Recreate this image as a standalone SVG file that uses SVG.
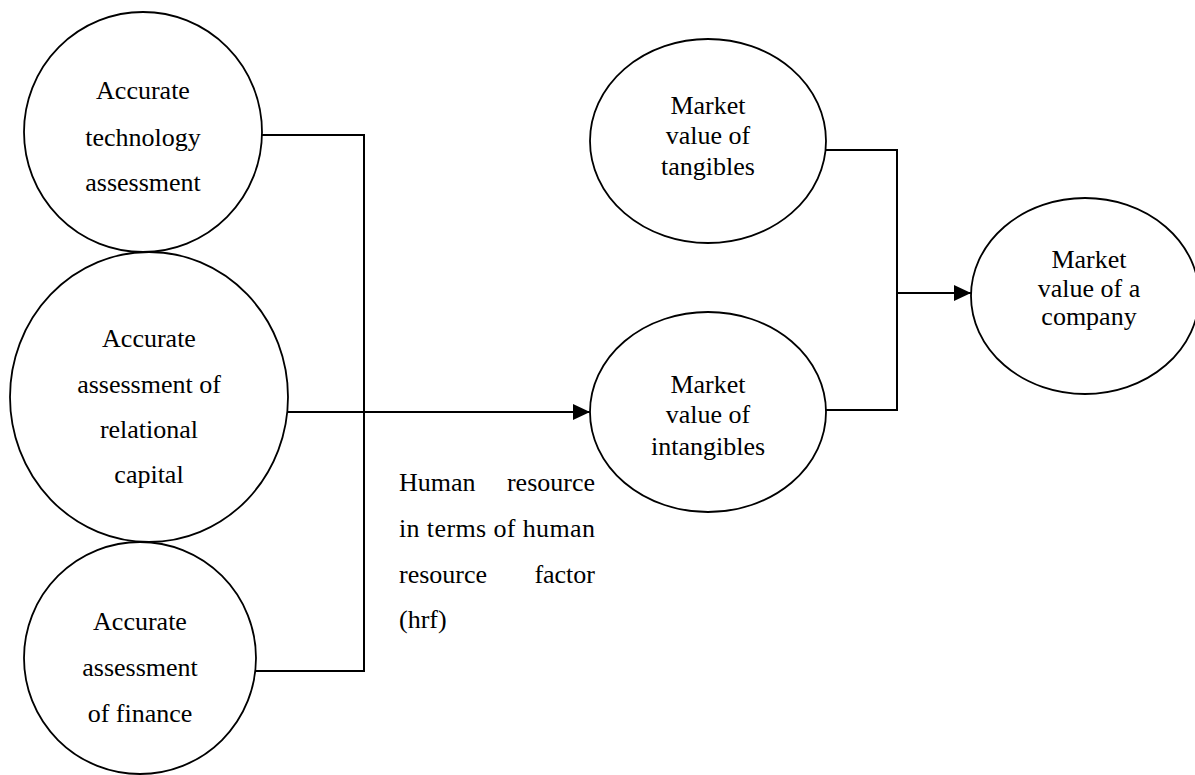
<svg xmlns="http://www.w3.org/2000/svg" width="1195" height="775" viewBox="0 0 1195 775">
  <style>
    .node { fill: #ffffff; stroke: #000000; stroke-width: 1.8; }
    .lbl { font-family: "Liberation Serif", "Times New Roman", serif; font-size: 26px; fill: #000000; text-anchor: middle; }
    .note { font-family: "Liberation Serif", "Times New Roman", serif; font-size: 26px; fill: #000000; }
    .wire { fill: none; stroke: #000000; stroke-width: 2; }
  </style>
  <defs>
    <marker id="arrow" markerWidth="17" markerHeight="16" refX="17" refY="8" orient="auto" markerUnits="userSpaceOnUse">
      <path d="M0,0 L17,8 L0,16 Z" fill="#000000"/>
    </marker>
  </defs>
  <rect width="1195" height="775" fill="#ffffff"/>

  <!-- connectors -->
  <g id="connectors">
    <polyline class="wire" points="262,135 364,135 364,671 256,671"/>
    <line class="wire" x1="288" y1="412" x2="590" y2="412" marker-end="url(#arrow)"/>
    <polyline class="wire" points="826,150 897,150 897,410 826,410"/>
    <line class="wire" x1="897" y1="293" x2="971" y2="293" marker-end="url(#arrow)"/>
  </g>

  <!-- left column -->
  <g id="tech">
    <ellipse class="node" cx="143" cy="132" rx="119" ry="120"/>
    <text class="lbl" x="143" y="99">Accurate</text>
    <text class="lbl" x="143" y="146">technology</text>
    <text class="lbl" x="143" y="191">assessment</text>
  </g>
  <g id="relational">
    <ellipse class="node" cx="149" cy="397" rx="139" ry="145"/>
    <text class="lbl" x="149" y="347">Accurate</text>
    <text class="lbl" x="149" y="393">assessment of</text>
    <text class="lbl" x="149" y="438">relational</text>
    <text class="lbl" x="149" y="483">capital</text>
  </g>
  <g id="finance">
    <ellipse class="node" cx="140" cy="658" rx="116" ry="116"/>
    <text class="lbl" x="140" y="630">Accurate</text>
    <text class="lbl" x="140" y="676">assessment</text>
    <text class="lbl" x="140" y="722">of finance</text>
  </g>

  <!-- side note -->
  <g id="hrf-note">
    <text class="note" x="399" y="491">Human</text>
    <text class="note" x="595" y="491" text-anchor="end">resource</text>
    <text class="note" x="399" y="537" textLength="196" lengthAdjust="spacing">in terms of human</text>
    <text class="note" x="399" y="583">resource</text>
    <text class="note" x="595" y="583" text-anchor="end">factor</text>
    <text class="note" x="399" y="628">(hrf)</text>
  </g>

  <!-- middle column -->
  <g id="tangibles">
    <ellipse class="node" cx="708" cy="141" rx="118" ry="102"/>
    <text class="lbl" x="708" y="114">Market</text>
    <text class="lbl" x="708" y="144">value of</text>
    <text class="lbl" x="708" y="175">tangibles</text>
  </g>
  <g id="intangibles">
    <ellipse class="node" cx="708" cy="412" rx="118" ry="100"/>
    <text class="lbl" x="708" y="393">Market</text>
    <text class="lbl" x="708" y="423">value of</text>
    <text class="lbl" x="708" y="455">intangibles</text>
  </g>

  <!-- result -->
  <g id="company">
    <ellipse class="node" cx="1085" cy="296" rx="114" ry="98"/>
    <text class="lbl" x="1089" y="268">Market</text>
    <text class="lbl" x="1089" y="297">value of a</text>
    <text class="lbl" x="1089" y="325">company</text>
  </g>
</svg>
